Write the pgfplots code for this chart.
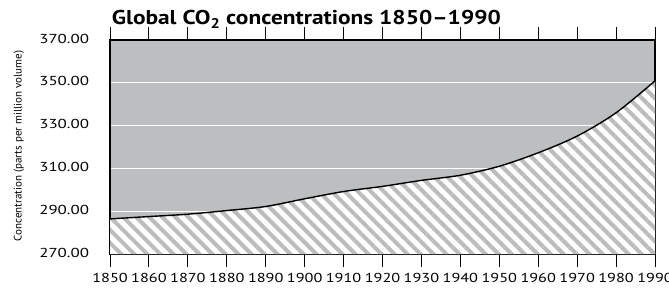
\documentclass[border=0pt]{standalone}
\usepackage{fontspec}
\setmainfont{PT Sans}
\newfontfamily\tickfont[FakeStretch=1.25]{PT Sans}
\newfontfamily\ytickfont[FakeStretch=1.3]{PT Sans}
\newfontfamily\titlefont[FakeStretch=1.17]{PT Sans}
\usepackage{pgfplots}
\pgfplotsset{compat=1.18}
\usetikzlibrary{patterns.meta}
\definecolor{bggray}{RGB}{188,190,192}
\definecolor{hatchgray}{RGB}{186,188,190}
\pgfplotstableread{
year co2
1850 286.4
1860 287.5
1870 288.6
1880 290.3
1890 292.2
1900 295.8
1910 299.2
1920 301.6
1930 304.4
1940 306.8
1950 311.0
1960 317.3
1970 325.1
1980 336.0
1990 350.9
}\codata
\begin{document}
\begin{tikzpicture}
\useasboundingbox (0pt,0pt) rectangle (669pt,289pt);
\begin{axis}[
  at={(110pt,35pt)}, anchor=south west,
  scale only axis, width=545pt, height=214pt,
  xmin=1850, xmax=1990, ymin=270, ymax=370,
  xtick={1850,1860,...,1990},
  ytick={270,290,...,370},
  axis background/.style={fill=bggray},
  axis line style={line width=1.6pt, black},
  ymajorgrids, grid style={white, line width=1.3pt},
  ytick style={draw=none},
  xtick style={black, line width=0.9pt},
  tick align=outside, major tick length=13pt,
  /pgf/number format/assume math mode=true,
  xticklabel style={/pgf/number format/1000 sep={}, font=\tickfont\fontsize{13}{15}\selectfont, yshift=-3pt},
  yticklabel style={/pgf/number format/.cd, fixed, fixed zerofill, precision=2, /tikz/.cd, font=\ytickfont\fontsize{13}{15}\selectfont, xshift=-4.5pt, yshift=1.5pt},
]
\addplot[smooth, draw=none, fill=white, postaction={pattern={Lines[angle=-45,distance=9.2pt,line width=4pt]}, pattern color=hatchgray}] table[x=year,y=co2] {\codata} \closedcycle;
\addplot[smooth, black, line width=1.4pt] table[x=year,y=co2] {\codata};
\end{axis}
\node[anchor=base west, inner sep=0pt, font=\titlefont\fontsize{20}{24}\selectfont\bfseries] at (111.7pt,264pt) {Global CO\textsubscript{2} concentrations 1850–1990};
\node[rotate=90, inner sep=0pt, font=\fontsize{11}{13}\selectfont] at (19pt,143pt) {Concentration (parts per million volume)};
\end{tikzpicture}
\end{document}
